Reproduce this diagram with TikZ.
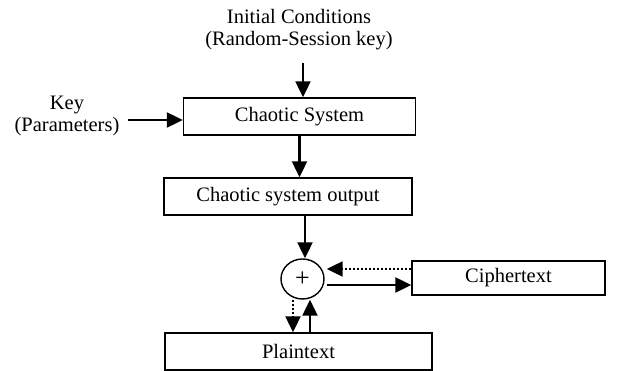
\documentclass[tikz,border=0pt]{standalone}
\usepackage{fontspec}
\setmainfont{Liberation Serif}
\usetikzlibrary{arrows.meta,shapes.geometric}
\begin{document}
\begin{tikzpicture}[x=1pt,y=-1pt,
  box/.style={draw,line width=1.4pt,minimum height=37pt,inner sep=0pt,font=\fontsize{20.5}{22}\selectfont},
  lbl/.style={align=center,inner sep=0pt,font=\fontsize{20.5}{22}\selectfont},
  arr/.style={line width=2.2pt,-{Triangle[length=16pt,width=15pt]}},
  darr/.style={arr,dash pattern=on 2pt off 2pt}]
\useasboundingbox (0,0) rectangle (622,371);
\node[lbl] (init) at (299,30) {Initial Conditions\\(Random-Session key)};
\node[lbl] (key) at (67,116) {Key\\(Parameters)};
\node[box,minimum width=232pt] (cs) at (299.5,116.5) {Chaotic System};
\node[box,minimum width=248pt] (cso) at (288,196.5) {Chaotic system output};
\node[draw,line width=1.4pt,ellipse,minimum width=43pt,minimum height=40pt,inner sep=0pt,font=\fontsize{26}{28}\selectfont] (xor) at (302.5,279) {+};
\node[box,minimum width=193pt,minimum height=34pt] (ct) at (508.5,278) {Ciphertext};
\node[box,minimum width=267pt] (pt) at (298.5,351.5) {Plaintext};
\coordinate (a1) at ([xshift=4pt,yshift=-12pt]init.south);
\draw[arr] (a1) -- (a1 |- cs.north);
\draw[arr] ([yshift=-4pt]key.east -| 128,0) -- ([yshift=-4pt]key.east -| cs.west);
\draw[arr] (cs.south) -- (cs.south |- cso.north);
\coordinate (a2) at ([xshift=2.5pt]xor.north);
\draw[arr] (a2 |- cso.south) -- (a2);
\coordinate (c1) at ([yshift=9pt]ct.west);
\draw[darr] (c1) -- ([xshift=2pt]c1 -| xor.east);
\coordinate (c2) at ([yshift=-7pt]ct.west);
\draw[arr] ([xshift=2pt]c2 -| xor.east) -- (c2);
\coordinate (p1) at ([xshift=-9.5pt]xor.south);
\draw[darr] (p1) -- (p1 |- pt.north);
\coordinate (p2) at ([xshift=7.5pt]xor.south);
\draw[arr] (p2 |- pt.north) -- (p2);
\end{tikzpicture}
\end{document}
